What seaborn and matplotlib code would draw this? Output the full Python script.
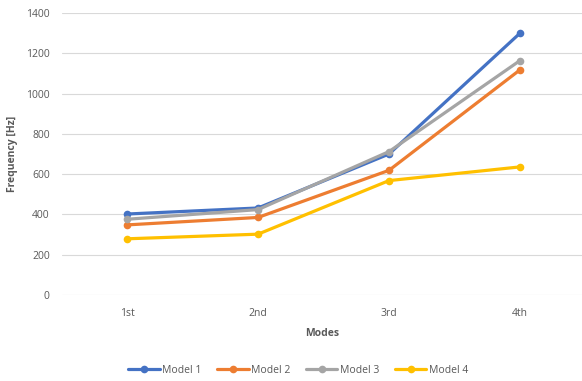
import pandas as pd
import matplotlib.pyplot as plt
import seaborn as sns

modes = ['1st', '2nd', '3rd', '4th']
model1 = [402, 432, 700, 1300]
model2 = [348, 385, 619, 1118]
model3 = [376, 424, 712, 1164]
model4 = [279, 302, 568, 636]
models = ['Model 1', 'Model 2', 'Model 3', 'Model 4']
colores = ['#4472C4', '#ED7D31', '#A5A5A5', '#FFC000']

# Armar el dataframe en formato largo
filas = []
for nombre, vals in zip(models, [model1, model2, model3, model4]):
    for m, v in zip(modes, vals):
        filas.append({'Modes': m, 'Frequency': v, 'Model': nombre})
df = pd.DataFrame(filas)

sns.set_style('white')
plt.rcParams['font.family'] = ['Open Sans', 'DejaVu Sans']
gris = '#595959'

fig = plt.figure(figsize=(5.82, 3.81), dpi=100)
ax = fig.add_axes([61.5 / 582, 1 - 295 / 381, 520.5 / 582, 282 / 381])

sns.lineplot(data=df, x='Modes', y='Frequency', hue='Model', palette=colores,
             marker='o', markersize=5.5, markeredgewidth=0, linewidth=2.3,
             sort=False, ax=ax)

ax.set_xlim(-0.5, 3.473)
ax.set_ylim(0, 1400)
ax.set_yticks(range(0, 1401, 200))
ax.yaxis.grid(True, color='#D9D9D9', linewidth=0.8)
ax.set_axisbelow(True)
for s in ax.spines.values():
    s.set_visible(False)
ax.tick_params(axis='y', length=0, labelsize=7.5, colors=gris, pad=8.5)
ax.tick_params(axis='x', length=0, labelsize=7.5, colors=gris, pad=9)

ax.set_xlabel('Modes', fontsize=7.5, fontweight='bold', color=gris, labelpad=6.5)
ax.set_ylabel('Frequency [Hz]', fontsize=7.5, fontweight='bold', color=gris, labelpad=6)

ax.legend(loc='upper center', bbox_to_anchor=(0.455, -0.215), ncol=4, frameon=False,
          fontsize=7.5, labelcolor=gris, handlelength=3, columnspacing=1.5,
          handletextpad=0.25, title=None)

fig.savefig('out.png', dpi=100)
